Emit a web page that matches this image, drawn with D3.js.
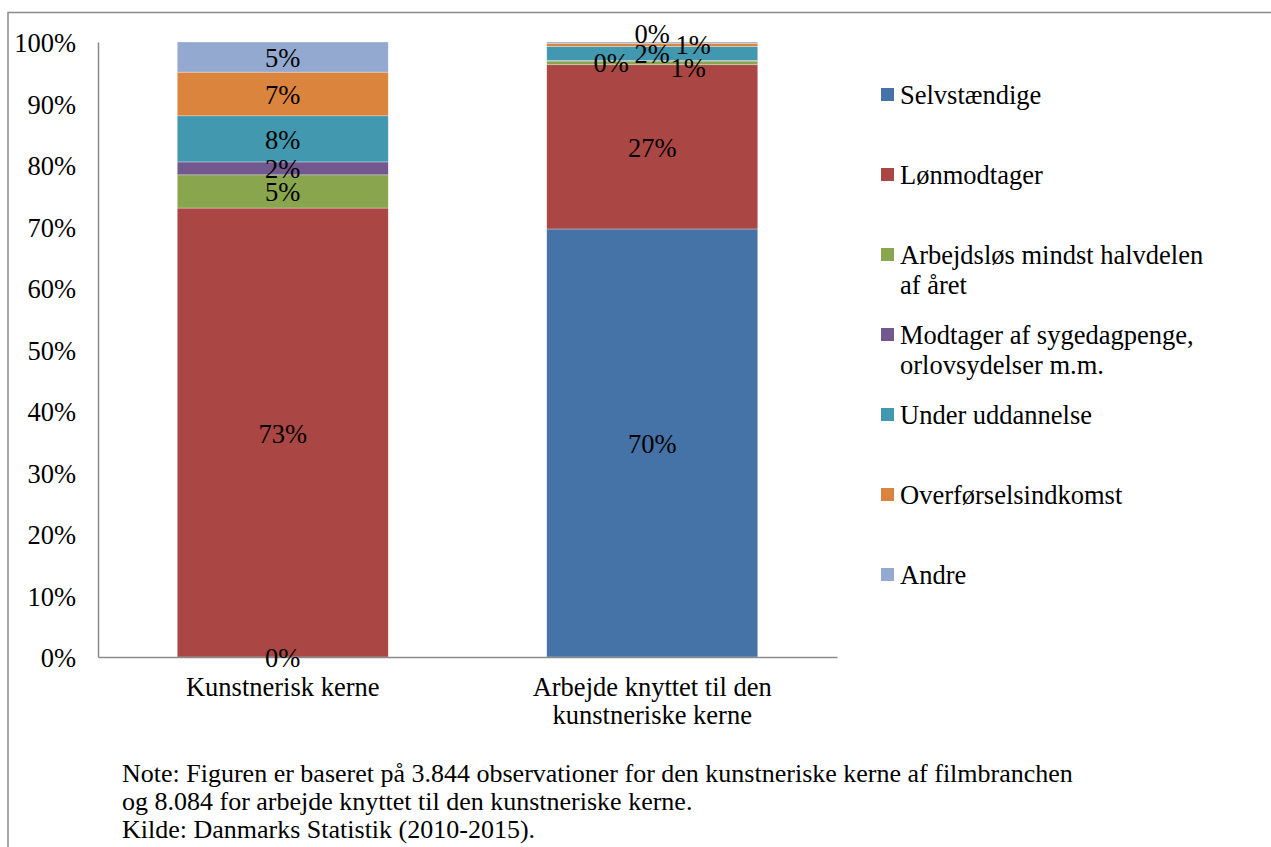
<!DOCTYPE html>
<html>
<head>
<meta charset="utf-8">
<script src="https://cdn.jsdelivr.net/npm/d3@7"></script>
<style>
  body { margin: 0; background: #fff; }
  svg text { font-family: "Liberation Serif", "Times New Roman", serif; fill: #000; }
</style>
</head>
<body>
<svg id="chart" width="1271" height="847"></svg>
<script>
// data (percent of each group)
const categories = ["Kunstnerisk kerne", "Arbejde knyttet til den kunstneriske kerne"];
const seriesNames = ["Selvstændige", "Lønmodtager", "Arbejdsløs mindst halvdelen af året",
    "Modtager af sygedagpenge, orlovsydelser m.m.", "Under uddannelse", "Overførselsindkomst", "Andre"];
const kunstneriskKerne = [0, 73.0, 5.4, 2.1, 7.5, 7.1, 4.9];
const arbejdeKnyttet = [69.6, 26.7, 0.6, 0.1, 2.3, 0.5, 0.2];
const yTicks = [0, 10, 20, 30, 40, 50, 60, 70, 80, 90, 100];
const noteLines = [
    "Note: Figuren er baseret på 3.844 observationer for den kunstneriske kerne af filmbranchen",
    "og 8.084 for arbejde knyttet til den kunstneriske kerne.",
    "Kilde: Danmarks Statistik (2010-2015)."
];

const colors = ["#4572A7", "#AA4643", "#89A54E", "#71588F", "#4198AF", "#DB843D", "#93A9CF"];

// small segments at the top of bar 2 had their labels nudged by hand in the original
const nudge = {
    "Arbejdsløs mindst halvdelen af året": [36, 4],
    "Modtager af sygedagpenge, orlovsydelser m.m.": [-41, 1],
    "Overførselsindkomst": [41, -1],
    "Andre": [0, -10]
};

const svg = d3.select("#chart");
const fontSize = 26.5;
const plot = {left: 98, right: 837, top: 42, bottom: 657};

const rows = categories.map((c, i) => {
    const src = i === 0 ? kunstneriskKerne : arbejdeKnyttet;
    const r = {cat: c, pct: {}};
    seriesNames.forEach((s, j) => { r[s] = src[j] / 100; r.pct[s] = src[j]; });
    return r;
});
const stacked = d3.stack().keys(seriesNames)(rows);

const x = d3.scaleBand()
    .domain(categories)
    .range([plot.left, plot.right])
    .paddingInner(0.429)
    .paddingOuter(0.2145);
const y = d3.scaleLinear().domain([0, 1]).range([plot.bottom, plot.top]);
const color = d3.scaleOrdinal().domain(seriesNames).range(colors);

// frame
svg.append("path")
    .attr("d", "M8,847V12.5H1271")
    .attr("fill", "none")
    .attr("stroke", "#8a8a8a")
    .attr("stroke-width", 1.5);

// bars
const segs = stacked.flatMap(s => s.map(p => Object.assign(p, {key: s.key})));

svg.append("g").selectAll("rect")
    .data(segs)
    .join("rect")
    .attr("fill", d => color(d.key))
    .attr("x", d => x(d.data.cat))
    .attr("width", x.bandwidth())
    .attr("y", d => y(d[1]))
    .attr("height", d => y(d[0]) - y(d[1]))
    .attr("stroke", "#fff")
    .attr("stroke-opacity", 0.5)
    .attr("stroke-width", 0.6);

// y axis
const yAxis = svg.append("g")
    .attr("transform", `translate(${plot.left},0)`)
    .call(d3.axisLeft(y)
        .tickValues(yTicks.map(v => v / 100))
        .tickFormat(d3.format(".0%"))
        .tickSize(0)
        .tickPadding(22));
yAxis.select(".domain").attr("stroke", "#8a8a8a").attr("stroke-width", 1.5);
yAxis.selectAll("text")
    .attr("font-size", fontSize)
    .attr("font-family", null)
    .attr("dy", "0.36em");

// x axis
const xAxis = svg.append("g")
    .attr("transform", `translate(0,${plot.bottom})`)
    .call(d3.axisBottom(x).tickSize(0).tickPadding(20).tickSizeOuter(0));
xAxis.select(".domain").attr("stroke", "#8a8a8a").attr("stroke-width", 1.5);
xAxis.selectAll("text")
    .attr("font-size", fontSize)
    .attr("font-family", null)
    .call(wrap, 330, 28.5);

// data labels (on top of everything)
svg.append("g").selectAll("text")
    .data(segs)
    .join("text")
    .attr("text-anchor", "middle")
    .attr("dominant-baseline", "central")
    .attr("font-size", fontSize)
    .attr("x", d => {
        const n = d.data.cat === categories[1] && nudge[d.key] ? nudge[d.key][0] : 0;
        return x(d.data.cat) + x.bandwidth() / 2 + n;
    })
    .attr("y", d => {
        const n = d.data.cat === categories[1] && nudge[d.key] ? nudge[d.key][1] : 0;
        return (y(d[0]) + y(d[1])) / 2 + 1 + n;
    })
    .text(d => Math.round(d.data.pct[d.key]) + "%");

function wrap(sel, width, lineHeight) {
    sel.each(function() {
        const text = d3.select(this);
        const words = text.text().split(/\s+/);
        const xPos = text.attr("x") || 0;
        const yPos = +text.attr("y") || 0;
        const dy = text.attr("dy");
        text.text(null);
        let line = [];
        let lineNo = 0;
        let tspan = text.append("tspan").attr("x", xPos).attr("y", yPos).attr("dy", dy);
        for (const w of words) {
            line.push(w);
            tspan.text(line.join(" "));
            if (tspan.node().getComputedTextLength() > width && line.length > 1) {
                line.pop();
                tspan.text(line.join(" "));
                line = [w];
                lineNo++;
                tspan = text.append("tspan")
                    .attr("x", xPos)
                    .attr("y", yPos + lineNo * lineHeight)
                    .attr("dy", dy)
                    .text(w);
            }
        }
    });
}

// legend
const legend = svg.append("g").attr("transform", "translate(881,0)");
const item = legend.selectAll("g")
    .data(seriesNames)
    .join("g")
    .attr("transform", (d, i) => `translate(0,${95 + i * 80})`);
item.append("rect")
    .attr("x", 0)
    .attr("y", -7)
    .attr("width", 13)
    .attr("height", 13)
    .attr("fill", d => color(d));
item.append("text")
    .attr("x", 19)
    .attr("y", 0)
    .attr("dy", "0.35em")
    .attr("font-size", fontSize)
    .text(d => d)
    .call(wrap, 325, 30);

// note
svg.append("g")
    .selectAll("text")
    .data(noteLines)
    .join("text")
    .attr("x", 122)
    .attr("y", (d, i) => 773 + i * 28)
    .attr("dy", "0.35em")
    .attr("font-size", 26)
    .text(d => d);
</script>
</body>
</html>
